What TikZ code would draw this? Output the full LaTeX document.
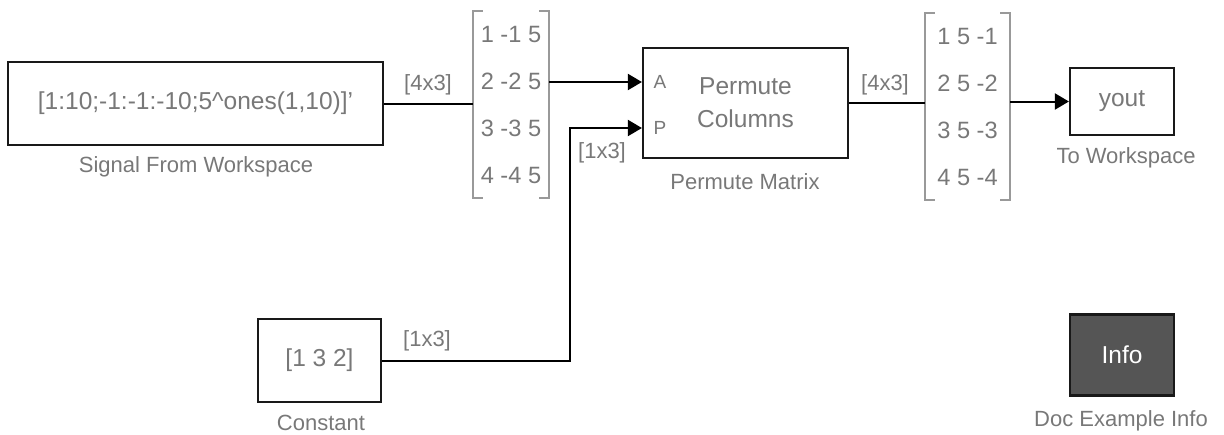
\documentclass[tikz,border=0pt]{standalone}
\usepackage{fontspec}
\setmainfont{Liberation Sans}
\usetikzlibrary{arrows.meta}
\definecolor{txtgray}{RGB}{120,120,120}
\definecolor{infogray}{RGB}{85,85,85}
\begin{document}
\begin{tikzpicture}[
    x=0.5pt, y=-0.5pt,
    block/.style={rectangle, draw=black!90, line width=1.1pt, fill=white, text=txtgray, font=\fontsize{12.25}{16.5}\selectfont, align=center, inner sep=0pt},
    disp/.style={rectangle, inner sep=0pt, text=txtgray, align=center, font=\fontsize{11.8}{23.5}\selectfont},
    bracket/.style={draw=black!40, line width=1pt},
    caption/.style={text=txtgray, font=\fontsize{11}{12}\selectfont, inner sep=0pt},
    port/.style={text=txtgray, font=\fontsize{9.5}{10}\selectfont, inner sep=0pt},
    line/.style={draw, line width=1pt, -{Triangle[length=7pt,width=8pt]}},
    wire/.style={draw, line width=1pt}
]
    \useasboundingbox (0,0) rectangle (1224,434);
    % blocks
    \node [block, minimum width=187.5pt, minimum height=41.5pt] (sig) at (195.5,103.5) {[1:10;-1:-1:-10;5\textasciicircum ones(1,10)]'};
    \node [block, minimum width=102.5pt, minimum height=55pt] (perm) at (745.5,103) {Permute\\Columns};
    \node [block, minimum width=61.5pt, minimum height=41.5pt] (const) at (319.5,360.5) {[1 3 2]};
    \node [block, minimum width=52pt, minimum height=33.5pt] (tows) at (1122,101.5) {yout};
    \node [block, fill=infogray, text=white, minimum width=52pt, minimum height=40.5pt] (info) at (1122,355) {Info};
    
    % displays
    \node [disp, minimum width=38pt, minimum height=93.5pt] (disp1) at (511,104.5) {1 -1 5\\2 -2 5\\3 -3 5\\4 -4 5};
    \node [disp, minimum width=42.5pt, minimum height=93.5pt] (disp2) at (967.5,106.5) {1 5 -1\\2 5 -2\\3 5 -3\\4 5 -4};
    \draw [bracket] ([xshift=5pt]disp1.north west) -| (disp1.south west) -- ++(10,0);
    \draw [bracket] ([xshift=-5pt]disp1.north east) -| (disp1.south east) -- ++(-10,0);
    \draw [bracket] ([xshift=5pt]disp2.north west) -| (disp2.south west) -- ++(10,0);
    \draw [bracket] ([xshift=-5pt]disp2.north east) -| (disp2.south east) -- ++(-10,0);
    
    % ports
    \node [port] (portA) at (660,82) {A};
    \node [port] (portP) at (660,128) {P};
    \coordinate (inA) at ([yshift=10.5pt]perm.west);
    \coordinate (inP) at ([yshift=-12.5pt]perm.west);
    \coordinate (bend) at (570,0);
    
    % signals
    \draw [wire] (sig.east) -- (sig.east -| disp1.west);
    \draw [line] (disp1.east |- inA) -- (inA);
    \draw [line] (const.east) -| (bend |- inP) -- (inP);
    \draw [wire] (perm.east) -- (perm.east -| disp2.west);
    \draw [line] (disp2.east |- tows.west) -- (tows.west);
    
    % labels
    \node [caption] (sigcap) at (196,167) {Signal From Workspace};
    \node [caption] (permcap) at (745,182) {Permute Matrix};
    \node [caption] (constcap) at (321,423) {Constant};
    \node [caption] (towscap) at (1126,158) {To Workspace};
    \node [caption] (infocap) at (1121,421) {Doc Example Info};
    \node [caption] (dim1) at (428,85) {[4x3]};
    \node [caption] (dim2) at (885,85) {[4x3]};
    \node [caption] (dim3) at (427,341) {[1x3]};
    \node [caption] (dim4) at (602,153) {[1x3]};
\end{tikzpicture}
\end{document}
